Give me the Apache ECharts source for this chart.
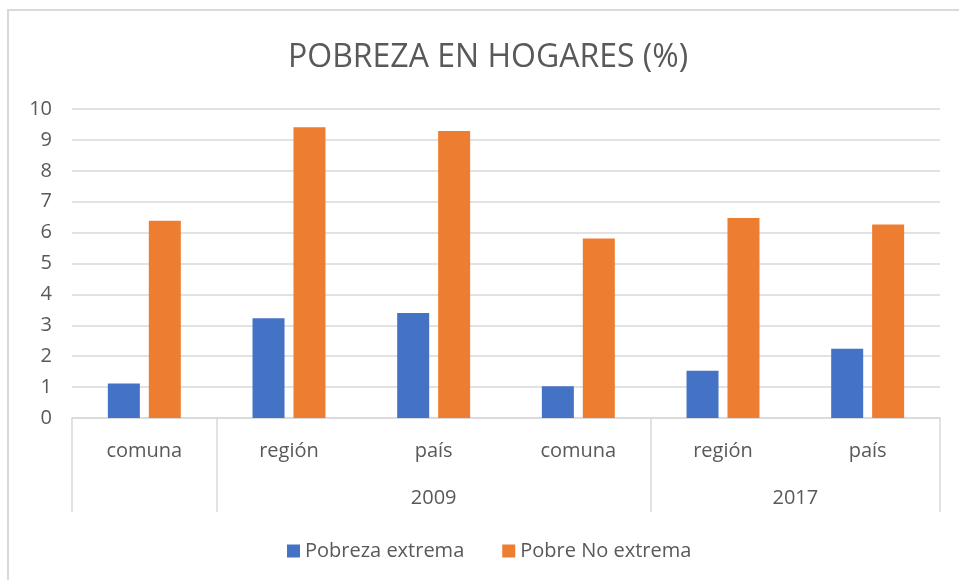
<!DOCTYPE html>
<html>
<head>
<meta charset="utf-8">
<script src="https://cdn.jsdelivr.net/npm/echarts@6.0.0/dist/echarts.min.js"></script>
<style>
  html, body { margin: 0; padding: 0; background: #fff; }
  #main { width: 959px; height: 580px; }
</style>
</head>
<body>
<div id="main"></div>
<script>
const categories = ["comuna", "región", "país", "comuna", "región", "país"];
// second level of the axis: 13 boundary slots (half-categories), years at group centres
const yearSlots = ["", "", "", "", "", "2009", "", "", "", "", "2017", "", ""];
const groupEdges = [0, 2, 8, 12];
const pobrezaExtrema = [1.12, 3.23, 3.4, 1.03, 1.53, 2.24];
const pobreNoExtrema = [6.38, 9.41, 9.29, 5.81, 6.47, 6.26];
const yTicks = { min: 0, max: 10, interval: 1 };

const font = "'Open Sans', 'Liberation Sans', sans-serif";
const textColor = "#595959";
const lineColor = "#d9d9d9";

const chart = echarts.init(document.getElementById("main"));

const options = {
  animation: false,
  textStyle: { fontFamily: font },
  title: {
    text: "POBREZA EN HOGARES (%)",
    left: 283,
    top: 37,
    textStyle: { fontFamily: font, fontSize: 32, fontWeight: "normal", color: textColor },
  },
  legend: {
    left: 282,
    top: 536,
    itemWidth: 13,
    itemHeight: 13,
    itemGap: 38,
    icon: "rect",
    textStyle: { fontFamily: font, fontSize: 20, color: textColor },
    data: ["Pobreza extrema", "Pobre No extrema"],
  },
  grid: { left: 72, right: 19, top: 109, bottom: 162 },
  xAxis: [
    {
      type: "category",
      data: categories,
      axisLine: { lineStyle: { color: lineColor, width: 1.5 } },
      axisTick: { show: false },
      axisLabel: { fontFamily: font, fontSize: 20, color: textColor, margin: 23, interval: 0 },
    },
    {
      type: "category",
      position: "bottom",
      boundaryGap: false,
      data: yearSlots,
      axisLine: { show: false },
      axisTick: {
        show: true,
        length: 94,
        interval: (index) => groupEdges.includes(index),
        lineStyle: { color: lineColor, width: 1.5 },
      },
      axisLabel: { fontFamily: font, fontSize: 20, color: textColor, margin: 70, interval: 0 },
    },
  ],
  yAxis: {
    type: "value",
    min: yTicks.min,
    max: yTicks.max,
    interval: yTicks.interval,
    axisLine: { show: false },
    axisTick: { show: false },
    splitLine: { lineStyle: { color: lineColor, width: 1.5 } },
    axisLabel: { fontFamily: font, fontSize: 20, color: textColor, margin: 20 },
  },
  graphic: [
    {
      type: "rect",
      shape: { x: 8, y: 10, width: 1000, height: 700 },
      style: { fill: "none", stroke: lineColor, lineWidth: 2 },
      silent: true,
    },
  ],
  series: [
    {
      name: "Pobreza extrema",
      type: "bar",
      data: pobrezaExtrema,
      barWidth: 32,
      barGap: "28%",
      itemStyle: { color: "#4472C4" },
    },
    {
      name: "Pobre No extrema",
      type: "bar",
      data: pobreNoExtrema,
      barWidth: 32,
      barGap: "28%",
      itemStyle: { color: "#ED7D31" },
    },
  ],
};

chart.setOption(options);
</script>
</body>
</html>
